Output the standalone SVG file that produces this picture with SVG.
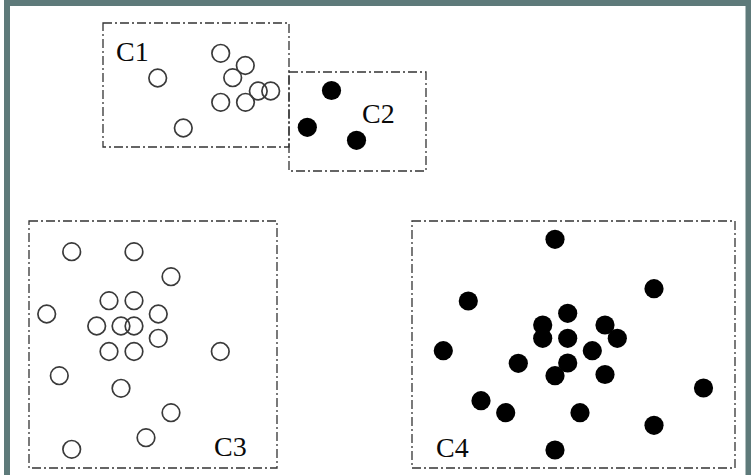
<svg xmlns="http://www.w3.org/2000/svg" width="751" height="475" viewBox="0 0 751 475">
<style>
.box{fill:none;stroke:#333;stroke-width:1.3;stroke-dasharray:9 3 2 3}
.o{fill:none;stroke:#3a3a3a;stroke-width:1.7}
.f{fill:#000}
.lbl{font-family:"Liberation Serif","Times New Roman",serif;font-size:28px;fill:#0a0a0a}
</style>
<rect x="0" y="0" width="751" height="475" fill="#fff"/>
<rect x="7" y="3" width="741.5" height="520" fill="#fff" stroke="#5e7a7a" stroke-width="6"/>
<g id="C1">
<rect class="box" x="103" y="23" width="186" height="124"/>
<text class="lbl" x="116" y="61">C1</text>
<g class="o">
<circle cx="157.7" cy="78" r="8.8"/>
<circle cx="220.7" cy="53.3" r="8.8"/>
<circle cx="245.3" cy="65.5" r="8.8"/>
<circle cx="232.7" cy="77.7" r="8.8"/>
<circle cx="258.3" cy="91" r="8.8"/>
<circle cx="270.7" cy="91" r="8.8"/>
<circle cx="220.7" cy="102.3" r="8.8"/>
<circle cx="245.5" cy="102.3" r="8.8"/>
<circle cx="183.3" cy="128" r="8.8"/>
</g>
</g>
<g id="C2">
<rect class="box" x="289" y="72" width="137" height="99"/>
<text class="lbl" x="362" y="123">C2</text>
<g class="f">
<circle cx="331.5" cy="90.5" r="9.6"/>
<circle cx="307.3" cy="127.3" r="9.6"/>
<circle cx="356.5" cy="140.3" r="9.6"/>
</g>
</g>
<g id="C3">
<rect class="box" x="29" y="221" width="248" height="247"/>
<text class="lbl" x="214" y="456">C3</text>
<g class="o">
<circle cx="71.7" cy="251.7" r="8.8"/>
<circle cx="134" cy="251.7" r="8.8"/>
<circle cx="171" cy="276.7" r="8.8"/>
<circle cx="109" cy="300.7" r="8.8"/>
<circle cx="134" cy="300.7" r="8.8"/>
<circle cx="46.7" cy="314" r="8.8"/>
<circle cx="158.3" cy="314" r="8.8"/>
<circle cx="96.7" cy="326" r="8.8"/>
<circle cx="121" cy="326" r="8.8"/>
<circle cx="134" cy="326" r="8.8"/>
<circle cx="158.3" cy="338.3" r="8.8"/>
<circle cx="109" cy="351.5" r="8.8"/>
<circle cx="134" cy="351.5" r="8.8"/>
<circle cx="220.3" cy="351.5" r="8.8"/>
<circle cx="59.3" cy="375.7" r="8.8"/>
<circle cx="121" cy="388.3" r="8.8"/>
<circle cx="171" cy="412.7" r="8.8"/>
<circle cx="146" cy="437.7" r="8.8"/>
<circle cx="71.7" cy="449.3" r="8.8"/>
</g>
</g>
<g id="C4">
<rect class="box" x="412" y="221" width="323" height="247"/>
<text class="lbl" x="436" y="457">C4</text>
<g class="f">
<circle cx="555" cy="239.3" r="9.6"/>
<circle cx="654" cy="288.7" r="9.6"/>
<circle cx="468.3" cy="301" r="9.6"/>
<circle cx="567.7" cy="313.3" r="9.6"/>
<circle cx="542.7" cy="325" r="9.6"/>
<circle cx="605" cy="325" r="9.6"/>
<circle cx="542.7" cy="338.3" r="9.6"/>
<circle cx="567.7" cy="338.3" r="9.6"/>
<circle cx="617.3" cy="338.3" r="9.6"/>
<circle cx="443.3" cy="350.7" r="9.6"/>
<circle cx="592.3" cy="350.7" r="9.6"/>
<circle cx="518.3" cy="363.3" r="9.6"/>
<circle cx="567.7" cy="363" r="9.6"/>
<circle cx="555" cy="375.7" r="9.6"/>
<circle cx="605" cy="374.5" r="9.6"/>
<circle cx="703.5" cy="388" r="9.6"/>
<circle cx="481" cy="400.7" r="9.6"/>
<circle cx="505.7" cy="412.7" r="9.6"/>
<circle cx="580" cy="412.7" r="9.6"/>
<circle cx="654" cy="425.3" r="9.6"/>
<circle cx="555" cy="450" r="9.6"/>
</g>
</g>
</svg>
